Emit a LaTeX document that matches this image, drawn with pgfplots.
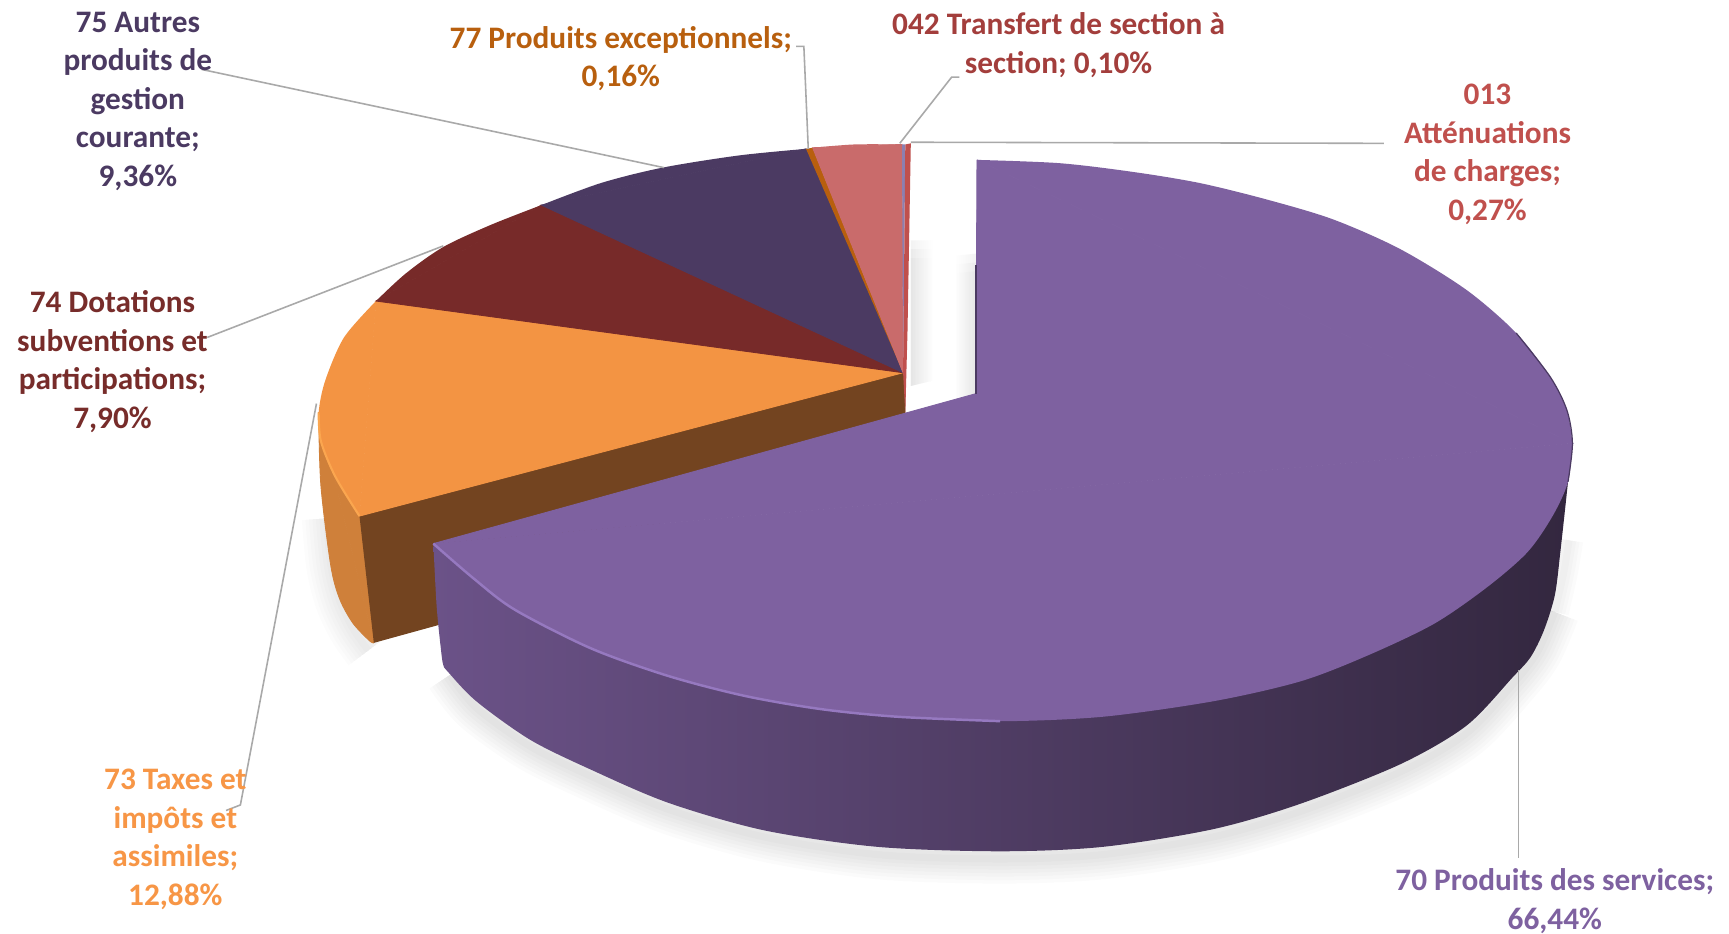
\documentclass[border=0pt]{standalone}
\usepackage{fontspec}
\setmainfont{Carlito}
\usepackage{pgfplots}
\pgfplotsset{compat=1.18}

\definecolor{cPurple}{HTML}{7E61A0}
\definecolor{cPurpleLt}{HTML}{9679C0}
\definecolor{cDkPurple}{HTML}{4B3A62}
\definecolor{cDkRed}{HTML}{772A29}
\definecolor{cOrange}{HTML}{F39443}
\definecolor{cOrangeLt}{HTML}{FBA64F}
\definecolor{cOrangeSide}{HTML}{CF803A}
\definecolor{cBrown}{HTML}{734420}
\definecolor{cPink}{HTML}{C96B6B}
\definecolor{cRed}{HTML}{C0504D}
\definecolor{cThin}{HTML}{B85F0E}
\definecolor{cBlueGrey}{HTML}{8C7FB0}
\definecolor{cLeader}{HTML}{A9A9A9}
\definecolor{side1}{HTML}{6B5288}
\definecolor{side2}{HTML}{4A3A60}
\definecolor{side3}{HTML}{33273F}
\definecolor{t75}{HTML}{4B3A62}
\definecolor{t77}{HTML}{B85F0E}
\definecolor{t042}{HTML}{A33E3C}
\definecolor{t013}{HTML}{C0504D}
\definecolor{t74}{HTML}{772C2A}
\definecolor{t73}{HTML}{F79646}
\definecolor{t70}{HTML}{7E61A0}

\tikzset{
  lab/.style={font=\fontsize{8.9}{10.95}\selectfont\bfseries, align=center, anchor=center, inner sep=0pt},
  face/.style={fill=#1, draw=#1, line width=0.25pt},
}

\begin{document}
\begin{tikzpicture}
\begin{axis}[
    scale only axis, width=17.29cm, height=9.34cm,
    xmin=0, xmax=1568, ymin=0, ymax=847, y dir=reverse,
    hide axis, clip=true,
    every axis plot/.append style={no markers},
]
% page
\addplot[fill=white, draw=none] coordinates {(0,0) (1568,0) (1568,847) (0,847)};

% soft shadows
\pgfplotsinvokeforeach{2,4,6,8,10,12,14}{
  \addplot[smooth, draw=black, opacity=0.015, line width=#1pt, line cap=butt] coordinates {
    (408,612) (432,642) (481,677) (536,704) (606,734) (693,759) (796,775) (907,779)
    (1000,775) (1100,759) (1179,736) (1270,700) (1330,665) (1375,617) (1395,590) (1410,555)};
  \addplot[smooth, draw=black, opacity=0.013, line width=#1pt, line cap=butt] coordinates {
    (296,470) (300,513) (308,545) (320,570) (334,590)};
}
\pgfplotsinvokeforeach{2,4,6,8}{
  \addplot[smooth, draw=black, opacity=0.015, line width=#1pt, line cap=butt] coordinates {
    (1410,555) (1418,520) (1423,490)};
}
\pgfplotsinvokeforeach{218,226,234}{
  \addplot[left color=black!14, right color=white, fill opacity=0.33, draw=none] coordinates {(826,#1) (846,#1) (846,345) (826,350)};
  \addplot[left color=white, right color=black!14, fill opacity=0.33, draw=none] coordinates {(866,#1+14) (885,#1+12) (885,357) (866,362)};
}

% orange outer side
\addplot[smooth, face=cOrangeSide] coordinates {
  (289,374) (291,440) (300,513) (308,543) (320,565) (335,581) (339,583)};
\addplot[face=cOrangeSide] coordinates {(289,374) (339,583) (326,468) (289,374)};
% brown cut face
\addplot[fill=cBrown, draw=none] coordinates {(326,468) (818,337) (821,338) (821,375) (397,567) (339,583)};
% back slices: curved part, then the wedge to the centre
\addplot[smooth, fill=cOrange, draw=none] coordinates {
  (341,273) (312,306) (295,345) (289,374) (291,400) (304,432) (326,468)};
\addplot[face=cOrange] coordinates {(819,338) (341,273) (326,468) (819,338)};
\addplot[smooth, draw=cOrangeLt, line width=0.6pt] coordinates {
  (289,374) (291,400) (304,432) (326,468)};
\addplot[smooth, fill=cDkRed, draw=none] coordinates {
  (491,186) (445,204) (402,224) (368,248) (341,273)};
\addplot[face=cDkRed] coordinates {(819,338) (491,186) (341,273) (819,338)};
\addplot[smooth, fill=cDkPurple, draw=none] coordinates {
  (731,135) (670,141) (601,152) (545,166) (491,186)};
\addplot[face=cDkPurple] coordinates {(819,338) (731,135) (491,186) (819,338)};
\addplot[fill=cThin, draw=none] coordinates {(819,338) (737,134) (731,135)};
\addplot[smooth, fill=cPink, draw=none] coordinates {(818,131) (775,131) (737,134)};
\addplot[face=cPink] coordinates {(819,338) (818,131) (737,134) (819,338)};
\addplot[fill=cBlueGrey, draw=none] coordinates {(819,338) (821,131) (818,131)};
\addplot[fill=cRed, draw=none] coordinates {(819,338) (821,375) (823,300) (826,130) (821,131)};

% purple side with horizontal shading
\addplot[smooth, left color=side1, middle color=side2, right color=side3, draw=none] coordinates {
  (393,493) (396,550) (400,590) (402,603) (406,609) (432,636) (481,671) (536,698) (606,728) (693,753) (796,768)
  (907,772) (1000,768) (1100,752) (1179,729) (1270,693) (1330,658) (1372,614) (1388,596) (1400,572)
  (1410,540) (1415,501) (1422,437)};
% purple top: back arc, front arc, and the part up to the inner corner
\addplot[smooth, fill=cPurple, draw=none] coordinates {
  (886,145) (961,148) (1028,156) (1088,166) (1149,181) (1209,199) (1270,226) (1330,263) (1375,302) (1406,342) (1421,372) (1426,402)};
\addplot[smooth, fill=cPurple, draw=none] coordinates {
  (1426,402) (1422,437) (1408,468) (1385,501) (1348,533) (1300,566) (1239,595) (1179,618) (1100,636) (1000,650)
  (907,654) (814,650) (744,643) (675,631) (606,613) (536,588) (467,553) (430,525) (393,493)};
\addplot[face=cPurple] coordinates {(886,145) (1426,402) (393,493) (885,357) (886,145)};
% rim highlight and dark edges
\addplot[smooth, draw=cPurpleLt, line width=0.7pt] coordinates {
  (393,493) (430,525) (467,553) (536,588) (606,613) (675,631) (744,643) (814,650) (907,654)};
\addplot[smooth, draw=cDkPurple, line width=0.35pt] coordinates {
  (1375,302) (1406,342) (1421,372) (1426,402) (1422,437)};
\addplot[draw=cDkPurple, line width=0.5pt] coordinates {(885,240) (885,357)};

% leader lines
\addplot[draw=cLeader, line width=0.45pt] coordinates {(183,63) (602,152)};
\addplot[draw=cLeader, line width=0.45pt] coordinates {(722,42) (729,42) (733,135)};
\addplot[draw=cLeader, line width=0.45pt] coordinates {(870,70) (863,70) (816,130)};
\addplot[draw=cLeader, line width=0.45pt] coordinates {(1255,130) (826,129)};
\addplot[draw=cLeader, line width=0.45pt] coordinates {(188,306) (402,223)};
\addplot[draw=cLeader, line width=0.45pt] coordinates {(205,735) (218,730) (287,366)};
\addplot[draw=cLeader, line width=0.45pt] coordinates {(1377,778) (1377,608)};

% labels
\node[lab, text=t75] at (axis cs:125,92) {75 Autres\\produits de\\gestion\\courante;\\9,36\%};
\node[lab, text=t77] at (axis cs:563,53) {77 Produits exceptionnels;\\0,16\%};
\node[lab, text=t042] at (axis cs:960,41) {042 Transfert de section à\\section; 0,10\%};
\node[lab, text=t013] at (axis cs:1349,140) {013\\Atténuations\\de charges;\\0,27\%};
\node[lab, text=t74] at (axis cs:102,328) {74 Dotations\\subventions et\\participations;\\7,90\%};
\node[lab, text=t73] at (axis cs:159,761) {73 Taxes et\\impôts et\\assimiles;\\12,88\%};
\node[lab, text=t70] at (axis cs:1410,817) {70 Produits des services;\\66,44\%};
\end{axis}
\end{tikzpicture}
\end{document}
